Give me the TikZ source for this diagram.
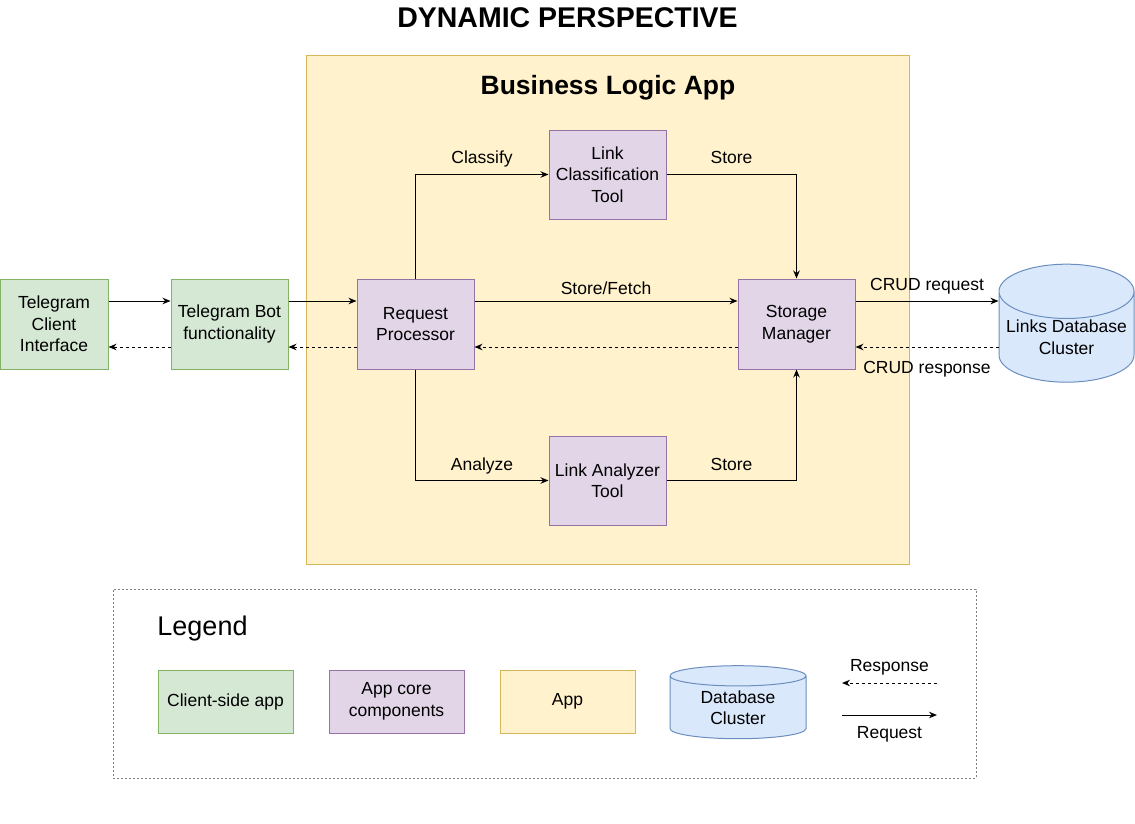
\documentclass[tikz,border=0pt]{standalone}
\usepackage{fontspec}
\setmainfont{Liberation Sans}
\usepackage{xcolor}
\usepackage{tikz}
\usetikzlibrary{shapes.geometric, arrows.meta, positioning, backgrounds}
\definecolor{clientfill}{HTML}{D5E8D4}
\definecolor{clientdraw}{HTML}{82B366}
\definecolor{corefill}{HTML}{E1D5E7}
\definecolor{coredraw}{HTML}{9673A6}
\definecolor{appfill}{HTML}{FFF2CC}
\definecolor{appdraw}{HTML}{D6B656}
\definecolor{dbfill}{HTML}{DAE8FC}
\definecolor{dbdraw}{HTML}{6C8EBF}
\tikzstyle{label} = [font=\fontsize{17.5}{21.5}\selectfont, align=center, inner sep=0pt]
\tikzstyle{tag} = [label, text height=12.5pt, text depth=4pt]
\tikzstyle{client} = [rectangle, minimum width=117pt, minimum height=90pt, label, draw=clientdraw, fill=clientfill, line width=1pt]
\tikzstyle{core} = [rectangle, minimum width=117pt, minimum height=90pt, label, draw=coredraw, fill=corefill, line width=1pt]
\tikzstyle{app} = [rectangle, minimum width=135pt, minimum height=63pt, label, draw=appdraw, fill=appfill, line width=1pt]
\tikzstyle{database} = [cylinder, shape border rotate=90, aspect=0.45, minimum width=135pt, minimum height=118pt, label, draw=dbdraw, fill=dbfill, line width=1pt]
\tikzstyle{arrow} = [line width=1pt, ->, >={Stealth[length=8pt, width=6.5pt]}]
\tikzstyle{response} = [arrow, dash pattern=on 3pt off 3pt]

\begin{document}
\begin{tikzpicture}[x=1pt, y=-1pt, node distance=186pt]
        \useasboundingbox (0,0) rectangle (1135,823);

        % Titles
        \node (title) [font=\fontsize{28.5}{30}\selectfont\bfseries] at (567.5,18) {DYNAMIC PERSPECTIVE};

        % App container
        \node (bla) [app, minimum width=603pt, minimum height=509pt] at (607.5,309.5) {};
        \node (blatitle) [font=\fontsize{26.5}{28}\selectfont\bfseries] at (608,88) {Business Logic App};

        % Clients
        \node (tci) [client, minimum width=108pt] at (54,324) {Telegram\\Client\\Interface};
        \node (bot) [client, right of=tci, xshift=-10.5pt] {Telegram Bot\\functionality};

        % Core components
        \node (req) [core, right of=bot] {Request\\Processor};
        \node (sto) [core, right of=req, xshift=195pt] {Storage\\Manager};
        \node (cls) [core, above of=req, xshift=192pt, yshift=-36.5pt, minimum height=89pt] {Link\\Classification\\Tool};
        \node (ana) [core, below of=req, xshift=192pt, yshift=29.5pt, minimum height=89pt] {Link Analyzer\\Tool};

        % Database
        \node (db) [database, right of=sto, xshift=84pt, yshift=-13pt] {Links Database\\Cluster};

        % Requests
        \draw [arrow] ([yshift=23pt]tci.east) -- ([yshift=23pt]bot.west);
        \draw [arrow] ([yshift=23pt]bot.east) -- ([yshift=23pt]req.west);
        \draw [arrow] ([yshift=23pt]req.east) -- node[tag, above=2pt] {Store/Fetch} ([yshift=23pt]sto.west);
        \draw [arrow] ([yshift=23pt]sto.east) -- node[tag, above=6pt] {CRUD request} ([yshift=23pt]sto.east -| db.west);
        \draw [arrow] (req.north) |- node[tag, pos=0.75, above=6.5pt] {Classify} (cls.west);
        \draw [arrow] (cls.east) -| node[tag, pos=0.25, above=6.5pt] {Store} (sto.north);
        \draw [arrow] (req.south) |- node[tag, pos=0.75, above=6pt] {Analyze} (ana.west);
        \draw [arrow] (ana.east) -| node[tag, pos=0.25, above=6pt] {Store} (sto.south);

        % Responses
        \draw [response] ([yshift=-23pt]sto.east -| db.west) -- node[tag, below=13pt] {CRUD response} ([yshift=-23pt]sto.east);
        \draw [response] ([yshift=-23pt]sto.west) -- ([yshift=-23pt]req.east);
        \draw [response] ([yshift=-23pt]req.west) -- ([yshift=-23pt]bot.east);
        \draw [response] ([yshift=-23pt]bot.west) -- ([yshift=-23pt]tci.east);

        % Legend
        \node (legend) [rectangle, draw=gray, line width=1pt, dash pattern=on 2pt off 2pt, minimum width=863pt, minimum height=189pt] at (544.5,683.5) {};
        \node (legendtitle) [font=\fontsize{27}{30}\selectfont] at (202.5,629) {Legend};
        \node (lclient) [client, minimum width=135pt, minimum height=63pt] at (225.5,701.5) {Client-side app};
        \node (lcore) [core, minimum width=135pt, minimum height=63pt] at (396.5,701.5) {App core\\components};
        \node (lapp) [app] at (567.5,701.5) {App};
        \node (ldb) [database, aspect=0.27, minimum width=136pt, minimum height=73pt, yshift=-7pt] at (738,700.5) {Database\\Cluster};
        \coordinate (rspfrom) at (937,683);
        \coordinate (rspto) at (842,683);
        \coordinate (reqfrom) at (842,715);
        \coordinate (reqto) at (937,715);
        \draw [response] (rspfrom) -- node[tag, above=7pt] {Response} (rspto);
        \draw [arrow] (reqfrom) -- node[tag, below=10pt] {Request} (reqto);
    \end{tikzpicture}
\end{document}
